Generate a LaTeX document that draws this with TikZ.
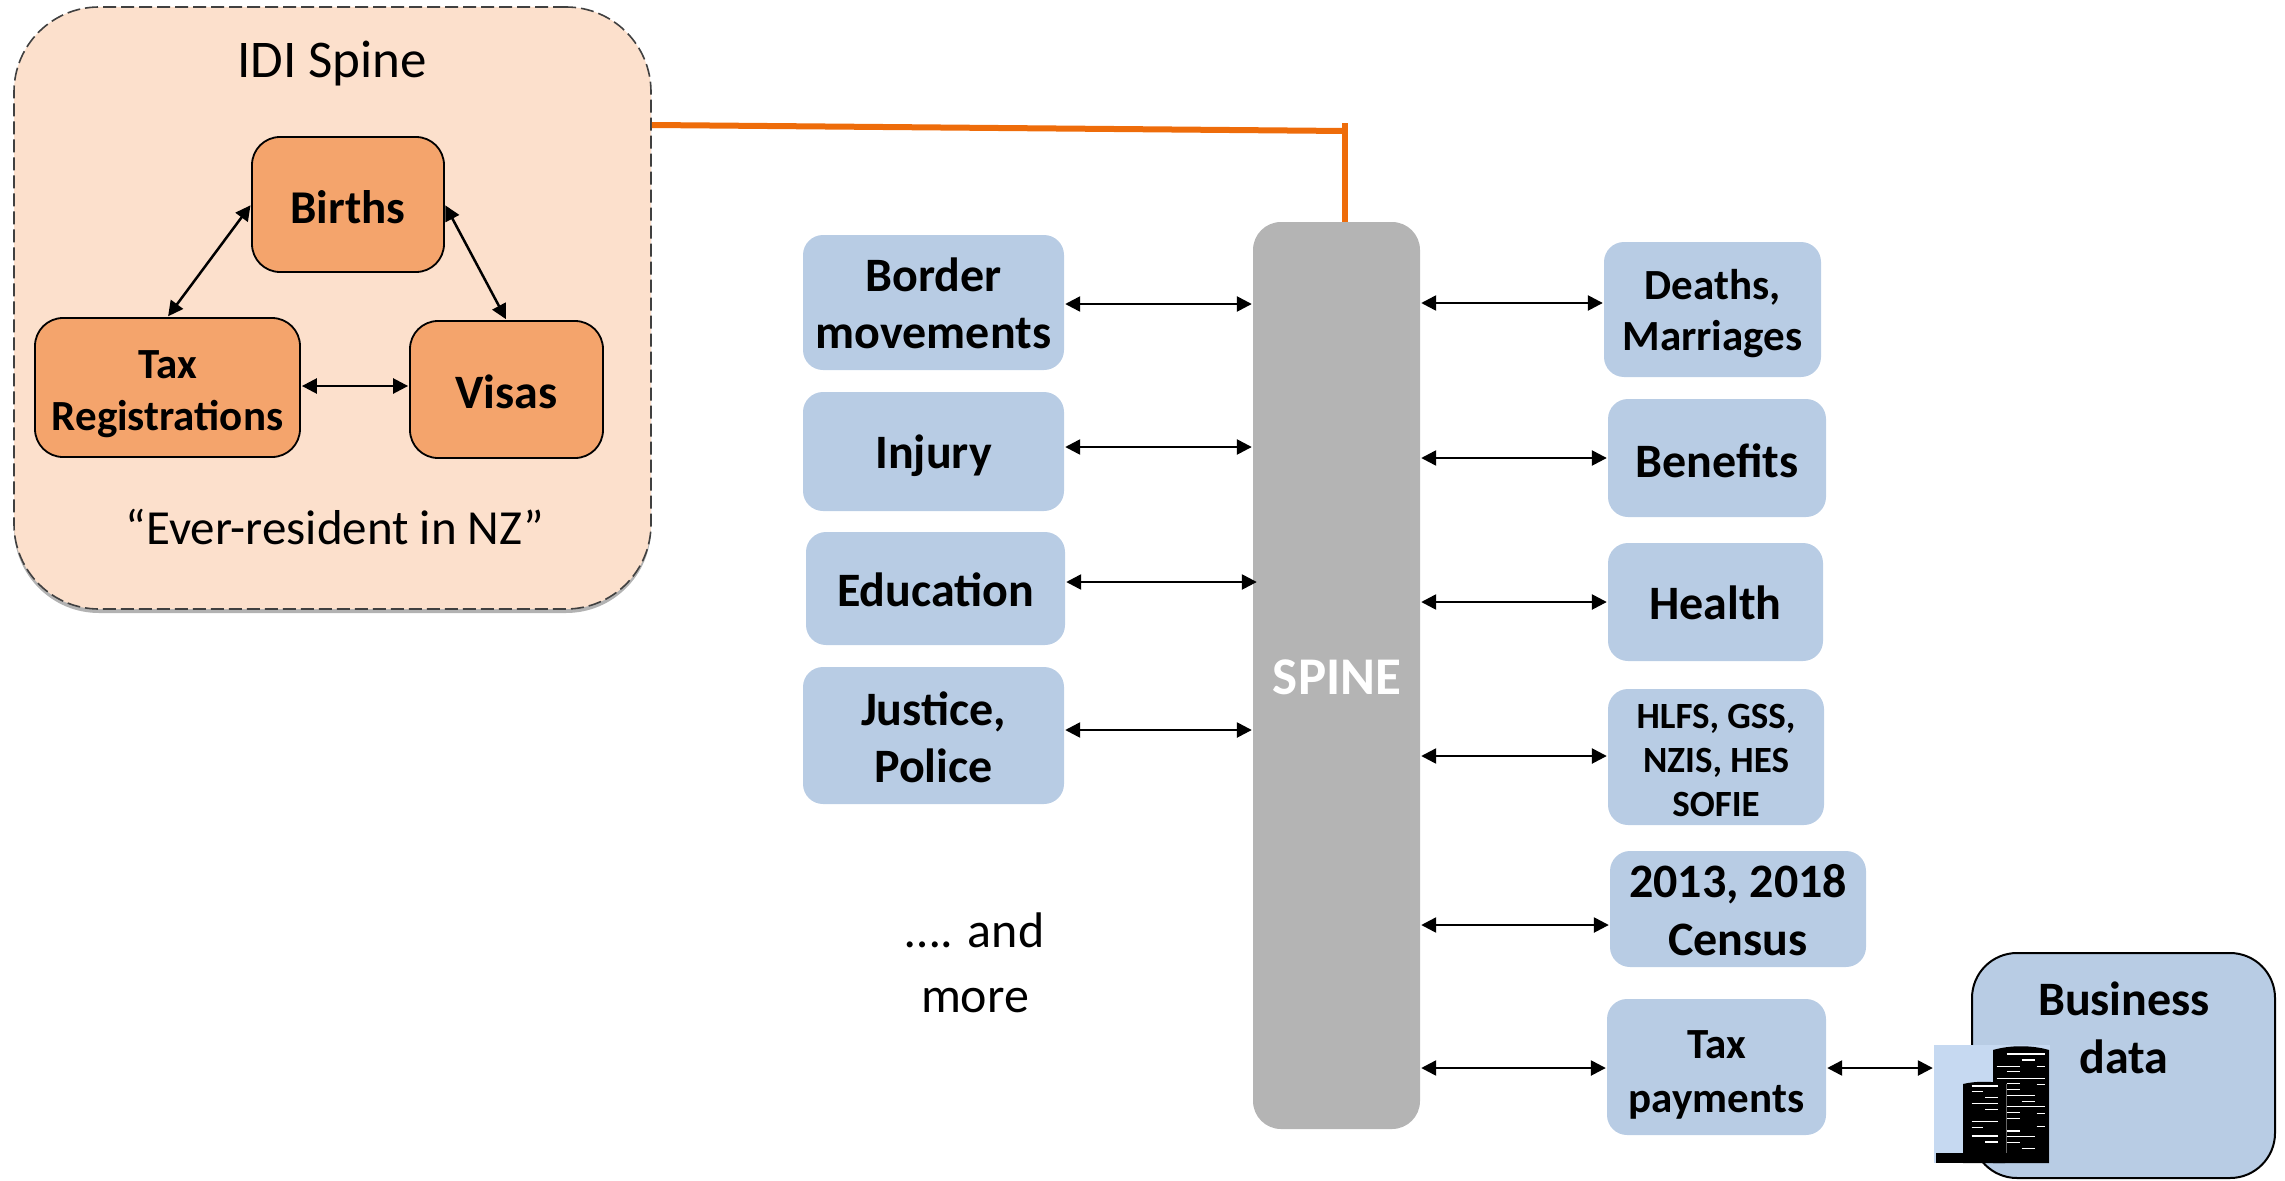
\documentclass[tikz,border=0pt]{standalone}
\usepackage{fontspec}
\setmainfont{Carlito}
\usetikzlibrary{arrows.meta,shadows}
\definecolor{blueb}{HTML}{B8CCE4}
\definecolor{orangeb}{HTML}{F4A46C}
\definecolor{peach}{HTML}{FCE0CC}
\definecolor{greyb}{HTML}{B4B4B4}
\definecolor{orangel}{HTML}{EE6C0A}
\definecolor{iconbg}{HTML}{C6D9F1}
\newcommand{\fs}[2]{\fontsize{#1}{#2}\selectfont}
\newcommand{\bx}[6]{\node[#1,minimum width={#4-#2},minimum height={#5-#3}] (#6) at ({(#2+#4)/2},{(#3+#5)/2})}
% box with its text in a node of its own, shifted down by #8
\newcommand{\bxt}[9]{\bx{#1}{#3}{#4}{#5}{#6}{#7} {};\node[plain,font=\bfseries #2] (#7text) at ([yshift=-#8pt]#7.center) {#9};}
\tikzset{
 boxbase/.style={rectangle,inner sep=0pt,align=center},
 bluebox/.style={boxbase,fill=blueb,rounded corners=20pt},
 orangebox/.style={boxbase,fill=orangeb,draw=black,line width=1.8pt,rounded corners=28pt},
 both/.style={{Triangle[length=15pt,width=15pt]}-{Triangle[length=15pt,width=15pt]},line width=2.5pt,black,shorten <=1pt,shorten >=1pt},
 plain/.style={inner sep=0pt,align=center},
 orangeline/.style={orangel,line width=6pt},
}
\begin{document}
\begin{tikzpicture}[x=1pt,y=-1pt]
\useasboundingbox (0,0) rectangle (2285,1180);
% IDI panel
\bx{boxbase,fill=peach,draw=black!75,line width=1.6pt,dash pattern=on 13pt off 5pt,rounded corners=85pt,drop shadow={shadow xshift=0pt,shadow yshift=-4pt,opacity=.3,fill=black}}{14}{7}{651}{609}{idi} {};
\node[plain,font=\fs{53}{60}] (idititle) at (332,64) {IDI Spine};
\node[plain,font=\fs{49}{60}] (ever) at (335,527) {“Ever-resident in NZ”};
\bxt{orangebox}{\fs{47}{56}}{252}{137}{444}{272}{births}{3}{Births}
\bxt{orangebox}{\fs{43}{52}}{35}{318}{300}{457}{taxreg}{7}{Tax\\Registrations}
\bxt{orangebox}{\fs{48}{56}}{410}{321}{603}{458}{visas}{2}{Visas}
\draw[both] (births.west) -- (taxreg.north);
\draw[both] (births.east) -- (visas.north);
\draw[both] (taxreg.east |- 0,386) -- (visas.west |- 0,386);
% spine
\bx{boxbase,fill=greyb,rounded corners=28pt}{1253}{222}{1420}{1129}{spine} {};
\node[plain,font=\bfseries\fs{53}{60},white] (spinetxt) at (1337,677) {SPINE};
% orange connector
\coordinate (cornerc) at (1345,123);
\coordinate (joinc) at (1345,131);
\draw[orangeline] (idi.east |- 0,125) -- (joinc);
\draw[orangeline] (spine.north -| cornerc) -- (cornerc);
% left boxes
\bxt{bluebox}{\fs{48}{57}}{803}{235}{1064}{370}{border}{1}{Border\\movements}
\bxt{bluebox}{\fs{48}{57}}{803}{392}{1064}{511}{injury}{4}{Injury}
\bxt{bluebox}{\fs{48}{57}}{806}{532}{1065}{645}{education}{1}{Education}
\bxt{bluebox}{\fs{48}{57}}{803}{667}{1064}{804}{justice}{2}{Justice,\\Police}
% right boxes
\bxt{bluebox}{\fs{43}{51}}{1604}{242}{1821}{377}{deaths}{4}{Deaths,\\Marriages}
\bxt{bluebox}{\fs{48}{57}}{1608}{399}{1826}{517}{benefits}{3}{Benefits}
\bxt{bluebox}{\fs{48}{57}}{1608}{543}{1823}{661}{health}{1}{Health}
\bxt{bluebox}{\fs{37}{44}}{1608}{689}{1824}{825}{surveys}{3}{HLFS, GSS,\\NZIS, HES\\SOFIE}
\bxt{bluebox}{\fs{48}{58}}{1610}{851}{1866}{967}{census}{1}{2013, 2018\\Census}
\bxt{bluebox}{\fs{43}{54}}{1607}{999}{1826}{1135}{taxpay}{8}{Tax\\payments}
% business
\bx{boxbase,fill=blueb,draw=black,line width=2pt,rounded corners=45pt}{1972}{953}{2275}{1178}{business} {};
\node[plain,font=\bfseries\fs{48}{58}] (bustxt) at (2124,1028) {Business\\data};
% icon
\bx{boxbase,fill=iconbg}{1934}{1045}{2050}{1163}{icon} {};
\fill[black] (1993,1050) .. controls (2010,1045) and (2032,1045) .. (2049,1050) -- (2049,1163) -- (1993,1163) -- cycle;
\fill[black] (1963,1084) .. controls (1975,1081) and (1993,1081) .. (2005,1084) -- (2005,1163) -- (1963,1163) -- cycle;
\draw[black!60,line width=1pt] (2006,1084) -- (2006,1153);
\fill[black] (1936,1153) rectangle (2037,1163);
\foreach \a/\b/\c in {320/372/435,365/390/405,290/410/360,410/410/435,320/425/360,290/445/435,320/460/360,410/463/435,320/478/360,320/497/405,365/515/405,320/530/435,320/547/360,410/550/435,320/565/360,410/590/435,320/603/360,320/620/405,320/637/360,365/655/405,215/468/295,215/485/250,255/503/295,215/521/295,255/538/295,215/575/295,215/592/250,215/618/295,255/636/295}
  \draw[white,line width=1.2pt] ({1900+\a/3},{930+\b/3}) -- ({1900+\c/3},{930+\b/3});
% arrows
\draw[both] (border.east |- 0,304) -- (spine.west |- 0,304);
\draw[both] (injury.east |- 0,447) -- (spine.west |- 0,447);
\draw[both] (education.east |- 0,582) -- ([xshift=5pt]spine.west |- 0,582);
\draw[both] (justice.east |- 0,730) -- (spine.west |- 0,730);
\draw[both] (spine.east |- 0,303) -- (deaths.west |- 0,303);
\draw[both] (spine.east |- 0,458) -- (benefits.west |- 0,458);
\draw[both] (spine.east |- 0,602) -- (health.west |- 0,602);
\draw[both] (spine.east |- 0,756) -- (surveys.west |- 0,756);
\draw[both] (spine.east |- 0,925) -- (census.west |- 0,925);
\draw[both] (spine.east |- 0,1068) -- (taxpay.west |- 0,1068);
\draw[both] (taxpay.east |- 0,1068) -- (icon.west |- 0,1068);
\node[plain,font=\fs{50}{65}] (more) at (975,963) {…. and\\more};
\end{tikzpicture}
\end{document}
